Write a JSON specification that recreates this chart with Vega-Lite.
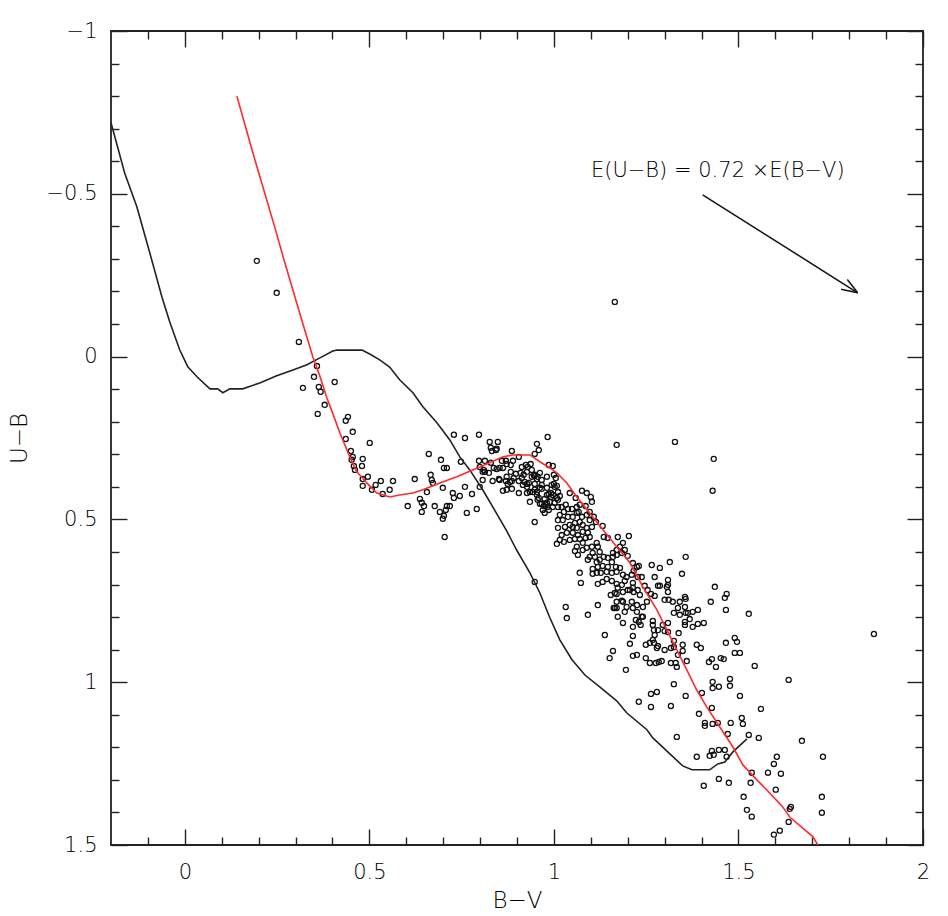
{
"$schema":"https://vega.github.io/schema/vega-lite/v6.json",
"width":812,"height":814,
"autosize":{"type":"none"},
"padding":{"left":111,"top":31,"right":25,"bottom":71},
"background":"white",
"config":{
 "view":{"stroke":"#222","strokeWidth":1.8},
 "axis":{"grid":false,"domain":false,"labelFont":"DejaVu Sans","labelFontSize":21,"labelFontWeight":200,"labelColor":"#000","tickColor":"#222","tickWidth":1.4,"titleFont":"DejaVu Sans","titleFontSize":23,"titleFontWeight":200,"titleColor":"#000","labelFlush":false,"labelOverlap":false,"labelBound":false}
},
"datasets":{
"stars":[
{"bv":0.195,"ub":-0.294},{"bv":0.249,"ub":-0.196},{"bv":0.309,"ub":-0.045},{"bv":0.358,"ub":0.029},{"bv":0.350,"ub":0.062},{"bv":0.320,"ub":0.096},{"bv":0.406,"ub":0.078},{"bv":0.363,"ub":0.093},{"bv":0.368,"ub":0.108},{"bv":0.379,"ub":0.148},{"bv":0.360,"ub":0.176},{"bv":0.442,"ub":0.185},{"bv":0.436,"ub":0.197},{"bv":0.455,"ub":0.231},{"bv":0.436,"ub":0.253},{"bv":0.501,"ub":0.265},{"bv":0.450,"ub":0.290},{"bv":0.455,"ub":0.308},{"bv":0.452,"ub":0.317},{"bv":0.482,"ub":0.314},{"bv":0.480,"ub":0.336},{"bv":0.458,"ub":0.336},{"bv":0.461,"ub":0.348},{"bv":0.496,"ub":0.369},{"bv":0.482,"ub":0.376},{"bv":0.531,"ub":0.382},{"bv":0.564,"ub":0.382},{"bv":0.517,"ub":0.394},{"bv":0.482,"ub":0.397},{"bv":0.507,"ub":0.409},{"bv":0.536,"ub":0.422},{"bv":0.555,"ub":0.409},{"bv":0.623,"ub":0.376},{"bv":0.661,"ub":0.299},{"bv":0.694,"ub":0.317},{"bv":0.702,"ub":0.342},{"bv":0.710,"ub":0.342},{"bv":0.666,"ub":0.363},{"bv":0.669,"ub":0.379},{"bv":0.672,"ub":0.388},{"bv":0.656,"ub":0.416},{"bv":0.699,"ub":0.403},{"bv":0.637,"ub":0.437},{"bv":0.642,"ub":0.449},{"bv":0.648,"ub":0.459},{"bv":0.604,"ub":0.459},{"bv":0.642,"ub":0.477},{"bv":0.677,"ub":0.459},{"bv":0.691,"ub":0.477},{"bv":0.710,"ub":0.459},{"bv":0.718,"ub":0.459},{"bv":0.707,"ub":0.471},{"bv":0.702,"ub":0.489},{"bv":0.699,"ub":0.498},{"bv":0.704,"ub":0.554},{"bv":0.729,"ub":0.240},{"bv":0.759,"ub":0.250},{"bv":0.797,"ub":0.240},{"bv":0.826,"ub":0.262},{"bv":0.848,"ub":0.262},{"bv":0.829,"ub":0.280},{"bv":0.845,"ub":0.283},{"bv":0.832,"ub":0.290},{"bv":0.886,"ub":0.290},{"bv":0.748,"ub":0.323},{"bv":0.797,"ub":0.320},{"bv":0.813,"ub":0.320},{"bv":0.859,"ub":0.320},{"bv":0.870,"ub":0.320},{"bv":0.889,"ub":0.320},{"bv":0.905,"ub":0.308},{"bv":0.954,"ub":0.268},{"bv":0.959,"ub":0.287},{"bv":0.983,"ub":0.247},{"bv":0.948,"ub":0.299},{"bv":0.937,"ub":0.330},{"bv":0.924,"ub":0.333},{"bv":0.913,"ub":0.339},{"bv":0.883,"ub":0.333},{"bv":0.883,"ub":0.354},{"bv":0.862,"ub":0.342},{"bv":0.853,"ub":0.342},{"bv":0.807,"ub":0.354},{"bv":0.813,"ub":0.354},{"bv":0.824,"ub":0.357},{"bv":0.837,"ub":0.342},{"bv":0.910,"ub":0.357},{"bv":0.927,"ub":0.354},{"bv":0.940,"ub":0.348},{"bv":0.946,"ub":0.366},{"bv":0.962,"ub":0.357},{"bv":0.954,"ub":0.376},{"bv":0.981,"ub":0.369},{"bv":0.986,"ub":0.333},{"bv":0.997,"ub":0.336},{"bv":0.891,"ub":0.373},{"bv":0.872,"ub":0.369},{"bv":0.905,"ub":0.382},{"bv":0.921,"ub":0.385},{"bv":0.927,"ub":0.391},{"bv":0.916,"ub":0.394},{"bv":0.932,"ub":0.388},{"bv":0.927,"ub":0.400},{"bv":0.886,"ub":0.382},{"bv":0.881,"ub":0.385},{"bv":0.875,"ub":0.391},{"bv":0.853,"ub":0.379},{"bv":0.834,"ub":0.382},{"bv":0.807,"ub":0.379},{"bv":0.759,"ub":0.400},{"bv":0.799,"ub":0.400},{"bv":0.778,"ub":0.422},{"bv":0.745,"ub":0.428},{"bv":0.726,"ub":0.419},{"bv":0.729,"ub":0.434},{"bv":0.791,"ub":0.468},{"bv":0.764,"ub":0.480},{"bv":0.862,"ub":0.412},{"bv":0.872,"ub":0.409},{"bv":0.886,"ub":0.406},{"bv":0.905,"ub":0.419},{"bv":0.927,"ub":0.419},{"bv":0.943,"ub":0.416},{"bv":0.954,"ub":0.416},{"bv":0.967,"ub":0.406},{"bv":0.981,"ub":0.403},{"bv":1.000,"ub":0.391},{"bv":0.986,"ub":0.422},{"bv":0.997,"ub":0.425},{"bv":1.011,"ub":0.416},{"bv":0.935,"ub":0.446},{"bv":0.956,"ub":0.440},{"bv":0.962,"ub":0.452},{"bv":0.973,"ub":0.459},{"bv":0.981,"ub":0.449},{"bv":0.989,"ub":0.446},{"bv":1.002,"ub":0.449},{"bv":1.008,"ub":0.434},{"bv":0.975,"ub":0.480},{"bv":0.986,"ub":0.471},{"bv":0.948,"ub":0.508},{"bv":1.011,"ub":0.502},{"bv":1.011,"ub":0.526},
{"bv":0.843,"ub":0.287},{"bv":1.170,"ub":0.271},{"bv":1.328,"ub":0.262},{"bv":0.799,"ub":0.339},{"bv":0.810,"ub":0.348},{"bv":0.829,"ub":0.326},{"bv":0.845,"ub":0.345},{"bv":0.872,"ub":0.330},{"bv":0.851,"ub":0.376},{"bv":0.870,"ub":0.382},{"bv":0.897,"ub":0.360},{"bv":0.929,"ub":0.339},{"bv":0.918,"ub":0.363},{"bv":0.913,"ub":0.373},{"bv":0.940,"ub":0.369},{"bv":0.948,"ub":0.363},{"bv":0.956,"ub":0.369},{"bv":0.967,"ub":0.379},{"bv":1.000,"ub":0.363},{"bv":1.005,"ub":0.373},{"bv":0.967,"ub":0.394},{"bv":0.948,"ub":0.391},{"bv":0.935,"ub":0.416},{"bv":0.948,"ub":0.409},{"bv":0.962,"ub":0.403},{"bv":0.994,"ub":0.394},{"bv":1.002,"ub":0.400},{"bv":1.008,"ub":0.397},{"bv":0.992,"ub":0.419},{"bv":0.981,"ub":0.425},{"bv":0.954,"ub":0.425},{"bv":0.959,"ub":0.434},{"bv":0.975,"ub":0.437},{"bv":0.992,"ub":0.431},{"bv":1.016,"ub":0.428},{"bv":1.011,"ub":0.440},{"bv":0.978,"ub":0.455},{"bv":0.967,"ub":0.452},{"bv":0.970,"ub":0.471},{"bv":0.983,"ub":0.462},{"bv":0.997,"ub":0.462},{"bv":1.011,"ub":0.462},{"bv":1.021,"ub":0.462},{"bv":1.032,"ub":0.455},{"bv":1.038,"ub":0.468},{"bv":1.043,"ub":0.419},{"bv":1.059,"ub":0.434},{"bv":1.076,"ub":0.412},{"bv":1.089,"ub":0.419},{"bv":1.100,"ub":0.431},{"bv":1.103,"ub":0.446},{"bv":1.086,"ub":0.459},{"bv":1.070,"ub":0.455},{"bv":1.062,"ub":0.462},{"bv":1.049,"ub":0.468},{"bv":1.027,"ub":0.477},{"bv":1.016,"ub":0.486},{"bv":1.024,"ub":0.502},{"bv":1.038,"ub":0.492},{"bv":1.051,"ub":0.492},{"bv":1.062,"ub":0.480},{"bv":1.067,"ub":0.477},{"bv":1.076,"ub":0.492},{"bv":1.089,"ub":0.486},{"bv":1.097,"ub":0.477},{"bv":1.108,"ub":0.492},{"bv":1.114,"ub":0.508},{"bv":1.097,"ub":0.502},{"bv":1.070,"ub":0.508},{"bv":1.057,"ub":0.511},{"bv":1.043,"ub":0.517},{"bv":1.030,"ub":0.523},{"bv":1.051,"ub":0.523},{"bv":1.062,"ub":0.526},{"bv":1.078,"ub":0.517},{"bv":1.089,"ub":0.526},{"bv":1.103,"ub":0.523},{"bv":1.092,"ub":0.541},{"bv":1.078,"ub":0.538},{"bv":1.065,"ub":0.548},{"bv":1.051,"ub":0.541},{"bv":1.035,"ub":0.541},{"bv":1.021,"ub":0.548},{"bv":1.016,"ub":0.563},{"bv":1.008,"ub":0.575},{"bv":1.027,"ub":0.569},{"bv":1.043,"ub":0.563},{"bv":1.057,"ub":0.560},{"bv":1.070,"ub":0.560},{"bv":1.078,"ub":0.572},{"bv":1.086,"ub":0.557},{"bv":1.097,"ub":0.554},{"bv":1.116,"ub":0.572},{"bv":1.132,"ub":0.520},{"bv":1.135,"ub":0.554},{"bv":1.146,"ub":0.557},{"bv":1.173,"ub":0.554},{"bv":1.203,"ub":0.551},{"bv":1.187,"ub":0.572},{"bv":1.179,"ub":0.584},{"bv":1.170,"ub":0.594},{"bv":1.160,"ub":0.603},{"bv":1.170,"ub":0.609},{"bv":1.184,"ub":0.603},{"bv":1.200,"ub":0.612},{"bv":1.192,"ub":0.594},{"bv":1.062,"ub":0.584},{"bv":1.057,"ub":0.597},{"bv":1.065,"ub":0.609},{"bv":1.078,"ub":0.594},{"bv":1.089,"ub":0.587},{"bv":1.103,"ub":0.584},{"bv":1.119,"ub":0.584},{"bv":1.124,"ub":0.600},{"bv":1.105,"ub":0.603},{"bv":1.097,"ub":0.615},{"bv":1.092,"ub":0.624},{"bv":1.111,"ub":0.615},{"bv":1.116,"ub":0.631},{"bv":1.124,"ub":0.624},{"bv":1.135,"ub":0.615},{"bv":1.146,"ub":0.618},{"bv":1.157,"ub":0.631},{"bv":1.160,"ub":0.615},{"bv":1.168,"ub":0.646},{"bv":1.146,"ub":0.646},{"bv":1.132,"ub":0.643},{"bv":1.119,"ub":0.646},{"bv":1.105,"ub":0.652},{"bv":1.116,"ub":0.664},{"bv":1.105,"ub":0.667},{"bv":1.127,"ub":0.664},{"bv":1.143,"ub":0.661},{"bv":1.157,"ub":0.664},{"bv":1.170,"ub":0.661},{"bv":1.179,"ub":0.649},{"bv":1.187,"ub":0.670},{"bv":1.197,"ub":0.677},{"bv":1.214,"ub":0.634},{"bv":1.225,"ub":0.646},{"bv":1.230,"ub":0.643},{"bv":1.216,"ub":0.658},{"bv":1.211,"ub":0.670},{"bv":1.227,"ub":0.677},{"bv":1.238,"ub":0.677},{"bv":1.265,"ub":0.640},{"bv":1.287,"ub":0.649},{"bv":1.314,"ub":0.631},{"bv":1.347,"ub":0.667},{"bv":1.357,"ub":0.615},{"bv":1.273,"ub":0.677},{"bv":1.070,"ub":0.664},{"bv":1.073,"ub":0.695},{"bv":1.119,"ub":0.698},{"bv":1.132,"ub":0.692},{"bv":1.143,"ub":0.683},{"bv":1.157,"ub":0.689},{"bv":1.170,"ub":0.698},{"bv":1.184,"ub":0.701},{"bv":1.192,"ub":0.689},{"bv":1.173,"ub":0.710},{"bv":1.187,"ub":0.723},{"bv":1.200,"ub":0.717},{"bv":1.214,"ub":0.695},{"bv":1.214,"ub":0.710},{"bv":1.227,"ub":0.717},{"bv":1.246,"ub":0.704},{"bv":1.263,"ub":0.729},{"bv":1.273,"ub":0.735},{"bv":1.287,"ub":0.704},{"bv":1.300,"ub":0.747},{"bv":1.309,"ub":0.701},{"bv":1.309,"ub":0.723},{"bv":1.322,"ub":0.753},{"bv":1.341,"ub":0.753},{"bv":1.355,"ub":0.738},{"bv":1.363,"ub":0.787},{"bv":1.376,"ub":0.784},{"bv":1.390,"ub":0.778},{"bv":1.154,"ub":0.732},{"bv":1.165,"ub":0.726},{"bv":1.170,"ub":0.753},{"bv":1.187,"ub":0.753},{"bv":1.197,"ub":0.769},{"bv":1.211,"ub":0.753},{"bv":1.225,"ub":0.763},{"bv":1.241,"ub":0.769},{"bv":1.252,"ub":0.753},{"bv":1.225,"ub":0.784},{"bv":1.238,"ub":0.799},{"bv":1.192,"ub":0.784},{"bv":1.165,"ub":0.772},{"bv":1.119,"ub":0.763},{"bv":1.092,"ub":0.793},{"bv":1.032,"ub":0.769},{"bv":1.035,"ub":0.803},{"bv":0.948,"ub":0.692},
{"bv":1.309,"ub":0.686},{"bv":1.282,"ub":0.704},{"bv":1.306,"ub":0.707},{"bv":1.254,"ub":0.717},{"bv":1.436,"ub":0.707},{"bv":1.468,"ub":0.729},{"bv":1.463,"ub":0.741},{"bv":1.425,"ub":0.753},{"bv":1.466,"ub":0.778},{"bv":1.528,"ub":0.790},{"bv":1.357,"ub":0.744},{"bv":1.311,"ub":0.747},{"bv":1.336,"ub":0.772},{"bv":1.355,"ub":0.769},{"bv":1.357,"ub":0.787},{"bv":1.341,"ub":0.793},{"bv":1.325,"ub":0.787},{"bv":1.368,"ub":0.806},{"bv":1.355,"ub":0.815},{"bv":1.355,"ub":0.824},{"bv":1.376,"ub":0.830},{"bv":1.390,"ub":0.821},{"bv":1.406,"ub":0.818},{"bv":1.309,"ub":0.818},{"bv":1.295,"ub":0.824},{"bv":1.268,"ub":0.812},{"bv":1.268,"ub":0.824},{"bv":1.271,"ub":0.840},{"bv":1.282,"ub":0.840},{"bv":1.300,"ub":0.843},{"bv":1.309,"ub":0.846},{"bv":1.273,"ub":0.855},{"bv":1.268,"ub":0.870},{"bv":1.338,"ub":0.849},{"bv":1.271,"ub":0.879},{"bv":1.260,"ub":0.879},{"bv":1.249,"ub":0.885},{"bv":1.282,"ub":0.889},{"bv":1.279,"ub":0.895},{"bv":1.300,"ub":0.901},{"bv":1.317,"ub":0.895},{"bv":1.325,"ub":0.892},{"bv":1.349,"ub":0.885},{"bv":1.349,"ub":0.904},{"bv":1.325,"ub":0.873},{"bv":1.336,"ub":0.916},{"bv":1.360,"ub":0.935},{"bv":1.387,"ub":0.885},{"bv":1.398,"ub":0.895},{"bv":1.466,"ub":0.879},{"bv":1.490,"ub":0.864},{"bv":1.496,"ub":0.876},{"bv":1.490,"ub":0.910},{"bv":1.504,"ub":0.910},{"bv":1.420,"ub":0.938},{"bv":1.428,"ub":0.929},{"bv":1.439,"ub":0.953},{"bv":1.452,"ub":0.926},{"bv":1.460,"ub":0.929},{"bv":1.544,"ub":0.950},{"bv":1.317,"ub":0.941},{"bv":1.330,"ub":0.941},{"bv":1.333,"ub":0.953},{"bv":1.292,"ub":0.935},{"bv":1.284,"ub":0.938},{"bv":1.276,"ub":0.941},{"bv":1.260,"ub":0.941},{"bv":1.249,"ub":0.926},{"bv":1.225,"ub":0.916},{"bv":1.214,"ub":0.919},{"bv":1.160,"ub":0.904},{"bv":1.151,"ub":0.926},{"bv":1.195,"ub":0.962},{"bv":1.214,"ub":0.858},{"bv":1.206,"ub":0.882},{"bv":1.138,"ub":0.855},{"bv":1.325,"ub":1.006},{"bv":1.263,"ub":1.036},{"bv":1.279,"ub":1.030},{"bv":1.230,"ub":1.060},{"bv":1.263,"ub":1.076},{"bv":1.317,"ub":1.073},{"bv":1.357,"ub":1.042},{"bv":1.401,"ub":1.033},{"bv":1.393,"ub":1.097},{"bv":1.428,"ub":1.079},{"bv":1.430,"ub":0.999},{"bv":1.447,"ub":1.014},{"bv":1.477,"ub":0.990},{"bv":1.477,"ub":1.011},{"bv":1.504,"ub":1.042},{"bv":1.561,"ub":1.082},{"bv":1.509,"ub":1.110},{"bv":1.636,"ub":0.993},{"bv":1.214,"ub":0.772},{"bv":1.170,"ub":0.772},{"bv":1.173,"ub":0.799},{"bv":1.187,"ub":0.818},{"bv":1.214,"ub":0.830},{"bv":1.222,"ub":0.809},{"bv":1.230,"ub":0.815},{"bv":1.235,"ub":0.824},{"bv":1.241,"ub":0.799},{"bv":1.170,"ub":0.729},{"bv":1.206,"ub":0.717},{"bv":1.216,"ub":0.723},{"bv":1.233,"ub":0.732},{"bv":1.162,"ub":0.772},{"bv":1.184,"ub":0.750},
{"bv":1.430,"ub":1.018},{"bv":1.333,"ub":1.168},{"bv":1.409,"ub":1.125},{"bv":1.409,"ub":1.134},{"bv":1.430,"ub":1.128},{"bv":1.444,"ub":1.125},{"bv":1.479,"ub":1.125},{"bv":1.512,"ub":1.128},{"bv":1.471,"ub":1.159},{"bv":1.528,"ub":1.162},{"bv":1.555,"ub":1.171},{"bv":1.672,"ub":1.180},{"bv":1.729,"ub":1.229},{"bv":1.428,"ub":1.211},{"bv":1.447,"ub":1.208},{"bv":1.463,"ub":1.208},{"bv":1.433,"ub":1.223},{"bv":1.422,"ub":1.226},{"bv":1.387,"ub":1.229},{"bv":1.468,"ub":1.229},{"bv":1.604,"ub":1.229},{"bv":1.596,"ub":1.251},{"bv":1.536,"ub":1.278},{"bv":1.580,"ub":1.278},{"bv":1.615,"ub":1.281},{"bv":1.447,"ub":1.297},{"bv":1.474,"ub":1.309},{"bv":1.406,"ub":1.318},{"bv":1.533,"ub":1.309},{"bv":1.601,"ub":1.330},{"bv":1.514,"ub":1.352},{"bv":1.726,"ub":1.352},{"bv":1.523,"ub":1.392},{"bv":1.536,"ub":1.413},{"bv":1.642,"ub":1.383},{"bv":1.639,"ub":1.389},{"bv":1.726,"ub":1.401},{"bv":1.636,"ub":1.429},{"bv":1.612,"ub":1.456},{"bv":1.596,"ub":1.468},
{"bv":1.165,"ub":-0.168},{"bv":1.433,"ub":0.314},{"bv":1.430,"ub":0.412},{"bv":1.867,"ub":0.852}
],
"zams":[
{"bv":-0.200,"ub":-0.718},{"bv":-0.163,"ub":-0.564},{"bv":-0.130,"ub":-0.460},{"bv":-0.095,"ub":-0.319},{"bv":-0.062,"ub":-0.183},{"bv":-0.041,"ub":-0.107},{"bv":-0.014,"ub":-0.021},{"bv":0.008,"ub":0.031},{"bv":0.033,"ub":0.062},{"bv":0.068,"ub":0.099},{"bv":0.089,"ub":0.099},{"bv":0.103,"ub":0.111},{"bv":0.122,"ub":0.099},{"bv":0.157,"ub":0.099},{"bv":0.203,"ub":0.081},{"bv":0.249,"ub":0.059},{"bv":0.293,"ub":0.041},{"bv":0.331,"ub":0.025},{"bv":0.366,"ub":0.004},{"bv":0.401,"ub":-0.017},{"bv":0.412,"ub":-0.020},{"bv":0.480,"ub":-0.020},{"bv":0.501,"ub":-0.008},{"bv":0.528,"ub":0.010},{"bv":0.555,"ub":0.032},{"bv":0.582,"ub":0.071},{"bv":0.618,"ub":0.111},{"bv":0.645,"ub":0.154},{"bv":0.683,"ub":0.203},{"bv":0.718,"ub":0.256},{"bv":0.745,"ub":0.308},{"bv":0.772,"ub":0.348},{"bv":0.807,"ub":0.409},{"bv":0.834,"ub":0.461},{"bv":0.872,"ub":0.535},{"bv":0.899,"ub":0.594},{"bv":0.935,"ub":0.664},{"bv":0.962,"ub":0.726},{"bv":0.989,"ub":0.802},{"bv":1.016,"ub":0.870},{"bv":1.049,"ub":0.931},{"bv":1.084,"ub":0.978},{"bv":1.124,"ub":1.014},{"bv":1.170,"ub":1.057},{"bv":1.197,"ub":1.094},{"bv":1.252,"ub":1.146},{"bv":1.268,"ub":1.171},{"bv":1.349,"ub":1.257},{"bv":1.374,"ub":1.269},{"bv":1.422,"ub":1.269},{"bv":1.444,"ub":1.251},{"bv":1.463,"ub":1.245},{"bv":1.485,"ub":1.214},{"bv":1.523,"ub":1.174}
],
"iso":[
{"bv":0.141,"ub":-0.800},{"bv":0.166,"ub":-0.700},{"bv":0.191,"ub":-0.600},{"bv":0.217,"ub":-0.500},{"bv":0.243,"ub":-0.400},{"bv":0.268,"ub":-0.300},{"bv":0.294,"ub":-0.200},{"bv":0.320,"ub":-0.100},{"bv":0.347,"ub":0.001},{"bv":0.366,"ub":0.060},{"bv":0.385,"ub":0.127},{"bv":0.400,"ub":0.172},{"bv":0.420,"ub":0.234},{"bv":0.447,"ub":0.308},{"bv":0.466,"ub":0.354},{"bv":0.493,"ub":0.388},{"bv":0.520,"ub":0.419},{"bv":0.555,"ub":0.431},{"bv":0.582,"ub":0.425},{"bv":0.618,"ub":0.419},{"bv":0.645,"ub":0.409},{"bv":0.691,"ub":0.388},{"bv":0.737,"ub":0.369},{"bv":0.780,"ub":0.348},{"bv":0.826,"ub":0.326},{"bv":0.862,"ub":0.308},{"bv":0.889,"ub":0.302},{"bv":0.935,"ub":0.302},{"bv":0.962,"ub":0.323},{"bv":0.989,"ub":0.342},{"bv":1.008,"ub":0.357},{"bv":1.035,"ub":0.388},{"bv":1.062,"ub":0.431},{"bv":1.097,"ub":0.480},{"bv":1.133,"ub":0.532},{"bv":1.170,"ub":0.584},{"bv":1.206,"ub":0.633},{"bv":1.241,"ub":0.707},{"bv":1.279,"ub":0.778},{"bv":1.306,"ub":0.839},{"bv":1.333,"ub":0.901},{"bv":1.360,"ub":0.962},{"bv":1.387,"ub":1.024},{"bv":1.414,"ub":1.076},{"bv":1.449,"ub":1.137},{"bv":1.485,"ub":1.199},{"bv":1.512,"ub":1.254},{"bv":1.550,"ub":1.300},{"bv":1.577,"ub":1.331},{"bv":1.620,"ub":1.383},{"bv":1.639,"ub":1.414},{"bv":1.702,"ub":1.475},{"bv":1.715,"ub":1.500}
],
"arrow":[
{"seg":"shaft","bv":1.403,"ub":-0.497},{"seg":"shaft","bv":1.823,"ub":-0.196},
{"seg":"head1","bv":1.795,"ub":-0.237},{"seg":"head1","bv":1.823,"ub":-0.196},
{"seg":"head2","bv":1.778,"ub":-0.207},{"seg":"head2","bv":1.823,"ub":-0.196}
],
"note":[{"bv":1.444,"ub":-0.570,"text":"E(U−B) = 0.72 ×E(B−V)"}]
},
"layer":[
{"data":{"name":"stars"},
 "mark":{"type":"point","shape":"circle","filled":false,"size":26,"stroke":"#111","strokeWidth":1.3,"opacity":1,"clip":true},
 "encoding":{
  "x":{"field":"bv","type":"quantitative","scale":{"domain":[-0.2,2],"nice":false,"zero":false},
   "axis":{"orient":"bottom","title":"B−V","values":[-0.1,0,0.1,0.2,0.3,0.4,0.5,0.6,0.7,0.8,0.9,1,1.1,1.2,1.3,1.4,1.5,1.6,1.7,1.8,1.9,2],
    "tickSize":{"condition":{"test":"abs(round(datum.value*10)) % 5 === 0","value":-16},"value":-8},
    "labelExpr":"abs(round(datum.value*10)) % 5 === 0 ? (datum.value < 0 ? '−' + format(-datum.value, '') : format(datum.value, '')) : ''",
    "labelPadding":32,"titlePadding":-1}},
  "y":{"field":"ub","type":"quantitative","scale":{"domain":[-1,1.5],"nice":false,"zero":false,"reverse":true},
   "axis":{"orient":"left","title":"U−B","values":[-1,-0.9,-0.8,-0.7,-0.6,-0.5,-0.4,-0.3,-0.2,-0.1,0,0.1,0.2,0.3,0.4,0.5,0.6,0.7,0.8,0.9,1,1.1,1.2,1.3,1.4,1.5],
    "tickSize":{"condition":{"test":"abs(round(datum.value*10)) % 5 === 0","value":-16},"value":-8},
    "labelExpr":"abs(round(datum.value*10)) % 5 === 0 ? (datum.value < 0 ? '−' + format(-datum.value, '') : format(datum.value, '')) : ''",
    "labelPadding":30,"titlePadding":15}}
 }},
{"data":{"name":"zams"},
 "mark":{"type":"line","color":"#222","strokeWidth":1.6,"clip":true},
 "encoding":{
  "x":{"field":"bv","type":"quantitative",
   "axis":{"orient":"top","title":null,"labels":false,"values":[-0.1,0,0.1,0.2,0.3,0.4,0.5,0.6,0.7,0.8,0.9,1,1.1,1.2,1.3,1.4,1.5,1.6,1.7,1.8,1.9,2],
    "tickSize":{"condition":{"test":"abs(round(datum.value*10)) % 5 === 0","value":-16},"value":-8}}},
  "y":{"field":"ub","type":"quantitative",
   "axis":{"orient":"right","title":null,"labels":false,"values":[-1,-0.9,-0.8,-0.7,-0.6,-0.5,-0.4,-0.3,-0.2,-0.1,0,0.1,0.2,0.3,0.4,0.5,0.6,0.7,0.8,0.9,1,1.1,1.2,1.3,1.4,1.5],
    "tickSize":{"condition":{"test":"abs(round(datum.value*10)) % 5 === 0","value":-16},"value":-8}}}
 }},
{"data":{"name":"iso"},
 "mark":{"type":"line","color":"#ff2a2a","strokeWidth":1.6,"clip":true},
 "encoding":{
  "x":{"field":"bv","type":"quantitative","axis":null},
  "y":{"field":"ub","type":"quantitative","axis":null}
 }},
{"data":{"name":"arrow"},
 "mark":{"type":"line","color":"#111","strokeWidth":1.5},
 "encoding":{
  "x":{"field":"bv","type":"quantitative","axis":null},
  "y":{"field":"ub","type":"quantitative","axis":null},
  "detail":{"field":"seg"}
 }},
{"data":{"name":"note"},
 "mark":{"type":"text","font":"DejaVu Sans","fontSize":21,"fontWeight":200,"color":"#000","align":"center","baseline":"middle"},
 "encoding":{
  "x":{"field":"bv","type":"quantitative","axis":null},
  "y":{"field":"ub","type":"quantitative","axis":null},
  "text":{"field":"text"}
 }}
],
"resolve":{"axis":{"x":"independent","y":"independent"}}
}
